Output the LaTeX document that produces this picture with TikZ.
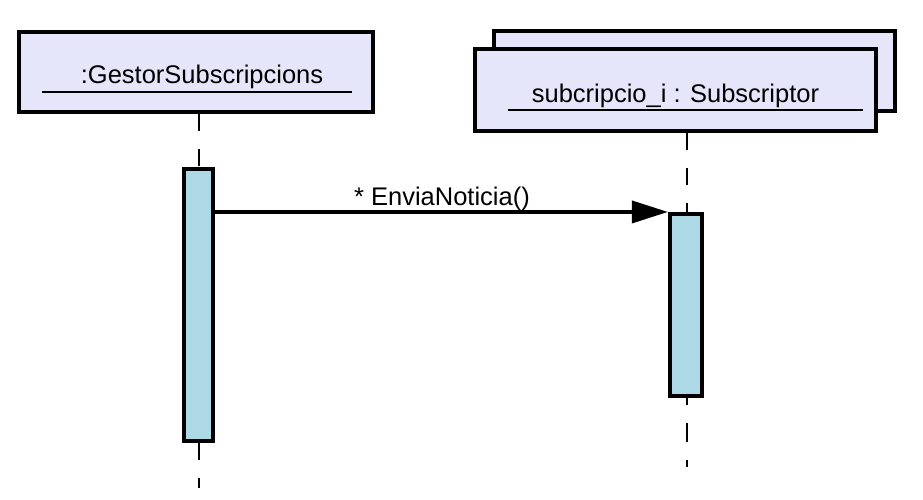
\documentclass[tikz,border=0pt]{standalone}
\usepackage{fontspec}
\setmainfont{Liberation Sans}
\usetikzlibrary{arrows.meta,calc}
\definecolor{boxfill}{HTML}{E6E6FA}
\definecolor{actfill}{HTML}{ADD8E6}
\tikzset{
  objbox/.style={draw=black, line width=4pt, fill=boxfill, inner sep=0pt},
  actbox/.style={draw=black, line width=3.6pt, fill=actfill, inner sep=0pt},
  lifeline/.style={line width=2.6pt, dash pattern=on 17pt off 18pt},
  lbl/.style={font=\fontsize{25.5}{29}\selectfont, inner sep=0pt, anchor=base},
  uline/.style={line width=2pt},
  msg/.style={line width=3.5pt, -{Triangle[length=36pt,width=22pt]}}
}
\begin{document}
\begin{tikzpicture}[x=1pt,y=-1pt]
\useasboundingbox (0,0) rectangle (923,499);
% left object
\node[objbox, minimum width=354pt, minimum height=80pt] (gestor) at (196,72) {};
\node[lbl] (gestorlbl) at (202,83) {:GestorSubscripcions};
\coordinate (gul1) at (42,92);
\coordinate (gul2) at (352,92);
\draw[uline] (gul1) -- (gul2);
% right object (multi)
\node[objbox, minimum width=401pt, minimum height=80pt] (subback) at (694.5,71) {};
\node[objbox, minimum width=401pt, minimum height=82pt] (sub) at (675.5,90) {};
\node[lbl] (sublbl) at (675.5,102) {subcripcio\_i : Subscriptor};
\coordinate (sul1) at (508,110);
\coordinate (sul2) at (863,110);
\draw[uline] (sul1) -- (sul2);
% activations
\node[actbox, minimum width=29.5pt, minimum height=272.5pt] (actA) at (198.5,305) {};
\node[actbox, minimum width=32.5pt, minimum height=182.5pt] (actB) at (686,305) {};
% lifelines
\coordinate (gtop) at (199,114);
\coordinate (gbot) at (199,488);
\coordinate (stop) at (687,133);
\coordinate (sbot) at (687,479);
\draw[lifeline] (gtop) -- (actA.north -| gtop);
\draw[lifeline] (actA.south -| gbot) -- (gbot);
\draw[lifeline] (stop) -- (actB.north -| stop);
\draw[lifeline, dash pattern=on 7pt off 18pt on 19pt off 18pt] (actB.south -| sbot) -- (sbot);
% message
\draw[msg] (actA.east |- actB.north west) -- (actB.north west);
\node[lbl] (msglbl) at (442,205) {* EnviaNoticia()};
\end{tikzpicture}
\end{document}
